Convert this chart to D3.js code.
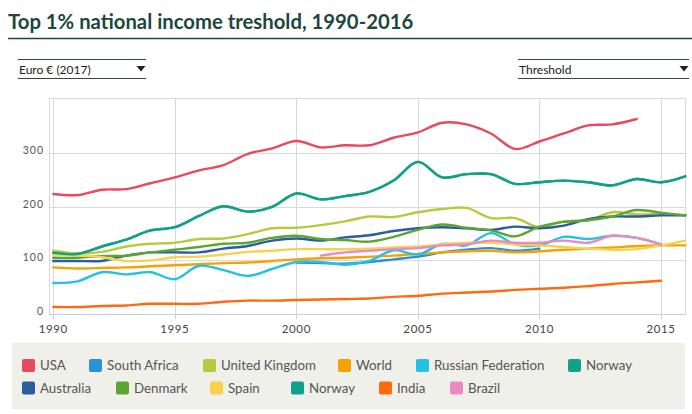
<!DOCTYPE html>
<html>
<head>
<meta charset="utf-8">
<script src="https://cdn.jsdelivr.net/npm/d3@7"></script>
<style>
  body { margin: 0; background: #fff; font-family: Lato, "Open Sans", sans-serif; }
  svg { display: block; }
</style>
</head>
<body>
<div id="chart"></div>
<script>
// Chart data (EUR 2017, top 1% threshold, thousands)
const years = d3.range(1990, 2017);

const usa         = [224, 222, 232, 233, 244, 255, 268, 278, 299, 309, 323, 311, 315, 315, 329, 339, 357, 354, 337, 308, 322, 337, 352, 354, 364];
const southAfrica = [null, null, null, null, null, null, null, null, null, null, 96, 95, 94, 97, 102, 107, 115, 120, 123, 118, 122];
const uk          = [118, 113, 116, 126, 131, 133, 140, 141, 149, 160, 161, 166, 173, 182, 181, 190, 196, 198, 179, 179, 162, 173, 175, 190, 186, 187, 184];
const world       = [87, 85, 86, 87, 89, 91, 93, 95, 96, 99, 102, 104, 105, 107, 109, 112, 115, 117, 118, 115, 117, 120, 122, 124, 127, 128, 128];
const russia      = [58, 61, 78, 74, 78, 65, 90, 82, 71, 84, 97, 97, 92, 99, 119, 111, 131, 128, 151, 130, 128, 144, 140, 146, 142, 130];
const norway      = [114, 112, 126, 139, 156, 162, 183, 201, 191, 200, 225, 214, 220, 228, 249, 284, 255, 261, 261, 243, 246, 249, 246, 240, 252, 246, 257];
const australia   = [99, 99, 99, 109, 115, 115, 115, 122, 127, 137, 141, 137, 143, 147, 155, 160, 162, 160, 157, 163, 160, 165, 177, 182, 182, 184, 184];
const denmark     = [105, 105, 108, 109, 115, 120, 125, 131, 133, 142, 146, 140, 138, 135, 144, 157, 167, 161, 156, 145, 163, 172, 175, 182, 194, 189, 184];
const spain       = [111, 109, 106, 99, 100, 106, 107, 111, 116, 118, 121, 121, 121, 122, 124, 126, 130, 133, 133, 130, 128, 125, 122, 120, 121, 128, 137];
const india       = [13, 13, 15, 16, 19, 19, 19, 23, 25, 25, 26, 27, 28, 29, 32, 34, 38, 40, 42, 45, 47, 49, 52, 56, 59, 62];
const brazil      = [null, null, null, null, null, null, null, null, null, null, null, 109, 115, 118, 121, 123, 128, 130, 137, 133, 133, 137, 133, 146, 142, 130];

const seriesNames = ['USA', 'South Africa', 'United Kingdom', 'World', 'Russian Federation', 'Norway',
                     'Australia', 'Denmark', 'Spain', 'Norway', 'India', 'Brazil'];
const seriesValues = [usa, southAfrica, uk, world, russia, norway,
                      australia, denmark, spain, norway, india, brazil];

const yTicks = [0, 100, 200, 300];
const xTicks = [1990, 1995, 2000, 2005, 2010, 2015];

const COLORS = ['#e8495d', '#2a90d8', '#b7ca3d', '#f5a300', '#22c2e4', '#11a08a',
                '#2a5c9e', '#5ba633', '#f6d24f', '#11a08a', '#ff6a10', '#e98ac3'];

// Legend layout (text start x per row)
const legendRows = [
  [40, 107, 221, 356, 434, 586],
  [40, 134, 228, 309, 397, 468]
];

const width = 692, height = 414;
const plot = { left: 49, right: 685, top: 98, bottom: 314 };

const svg = d3.select('#chart').append('svg')
  .attr('width', width)
  .attr('height', height);

// Title
svg.append('text')
  .attr('x', 8)
  .attr('y', 29)
  .attr('font-size', '20.3px')
  .attr('font-weight', 'bold')
  .attr('fill', '#1d473d')
  .text('Top 1% national income treshold, 1990-2016');

svg.append('line')
  .attr('x1', 8).attr('x2', width)
  .attr('y1', 38.5).attr('y2', 38.5)
  .attr('stroke', '#1d473d')
  .attr('stroke-width', 1.5);

// Dropdowns
function dropdown(x1, x2, label) {
  const g = svg.append('g');
  [59.5, 78.5].forEach(y => {
    g.append('line')
      .attr('x1', x1).attr('x2', x2)
      .attr('y1', y).attr('y2', y)
      .attr('stroke', '#2e4a44')
      .attr('stroke-width', 1);
  });
  g.append('text')
    .attr('x', x1 + 1)
    .attr('y', 74)
    .attr('font-size', '12px')
    .attr('fill', '#222')
    .text(label);
  const ax = x2 - 5;
  g.append('path')
    .attr('d', `M${ax - 4.5},66 L${ax + 4.5},66 L${ax},71.5 Z`)
    .attr('fill', '#222');
}
dropdown(18, 146, 'Euro € (2017)');
dropdown(518, 689, 'Threshold');

// Scales
const x = d3.scaleLinear().domain([1990, 2015]).range([53.3, 661]);
const y = d3.scaleLinear().domain([0, 400]).range([plot.bottom, 99.7]);

// Plot frame and grid
const grid = svg.append('g');
grid.append('rect')
  .attr('x', plot.left + 0.5).attr('y', plot.top + 0.5)
  .attr('width', plot.right - plot.left).attr('height', plot.bottom - plot.top)
  .attr('fill', 'none')
  .attr('stroke', '#d9d9d9');

grid.selectAll('.hgrid')
  .data(yTicks.filter(d => d > 0))
  .join('line')
  .attr('x1', plot.left).attr('x2', plot.right)
  .attr('y1', d => Math.round(y(d)) + 0.5).attr('y2', d => Math.round(y(d)) + 0.5)
  .attr('stroke', '#d9d9d9');

grid.selectAll('.vgrid')
  .data(xTicks)
  .join('line')
  .attr('x1', d => Math.round(x(d)) + 0.5).attr('x2', d => Math.round(x(d)) + 0.5)
  .attr('y1', plot.top).attr('y2', plot.bottom)
  .attr('stroke', '#d9d9d9');

// X axis line + ticks
grid.append('line')
  .attr('x1', plot.left).attr('x2', plot.right + 1)
  .attr('y1', plot.bottom + 0.5).attr('y2', plot.bottom + 0.5)
  .attr('stroke', '#c5d0e3');

grid.selectAll('.xtick')
  .data(xTicks)
  .join('line')
  .attr('x1', d => Math.round(x(d)) + 0.5).attr('x2', d => Math.round(x(d)) + 0.5)
  .attr('y1', plot.bottom).attr('y2', plot.bottom + 5)
  .attr('stroke', '#c5d0e3');

svg.selectAll('.xlabel')
  .data(xTicks)
  .join('text')
  .attr('x', d => x(d))
  .attr('y', 333)
  .attr('text-anchor', 'middle')
  .attr('font-size', '11.5px')
  .attr('letter-spacing', '0.6px')
  .attr('fill', '#444')
  .text(d => d);

svg.selectAll('.ylabel')
  .data(yTicks)
  .join('text')
  .attr('x', 44)
  .attr('y', d => y(d) + 1)
  .attr('text-anchor', 'end')
  .attr('font-size', '10.5px')
  .attr('letter-spacing', '1px')
  .attr('fill', '#555')
  .text(d => d);

// Lines
const line = d3.line()
  .defined(d => d.v != null)
  .x(d => x(d.year))
  .y(d => y(d.v))
  .curve(d3.curveCatmullRom.alpha(0.5));

const lines = svg.append('g');
seriesValues.forEach((vals, i) => {
  const pts = vals.map((v, j) => ({ year: years[j], v }));
  lines.append('path')
    .datum(pts)
    .attr('d', line)
    .attr('fill', 'none')
    .attr('stroke', COLORS[i])
    .attr('stroke-width', 2.4)
    .attr('stroke-linejoin', 'round')
    .attr('stroke-linecap', 'round');
});

// Legend
svg.append('rect')
  .attr('x', 12).attr('y', 343)
  .attr('width', 673).attr('height', 66)
  .attr('fill', '#f0f0ea');

const rowY = [370, 392.5];
let k = 0;
legendRows.forEach((row, r) => {
  row.forEach(tx => {
    const i = k++;
    const g = svg.append('g');
    g.append('rect')
      .attr('x', tx - 18).attr('y', rowY[r] - 11)
      .attr('width', 13).attr('height', 13)
      .attr('rx', 2)
      .attr('fill', COLORS[i]);
    g.append('text')
      .attr('x', tx)
      .attr('y', rowY[r])
      .attr('font-size', '13.3px')
      .attr('fill', '#555')
      .text(seriesNames[i]);
  });
});
</script>
</body>
</html>
